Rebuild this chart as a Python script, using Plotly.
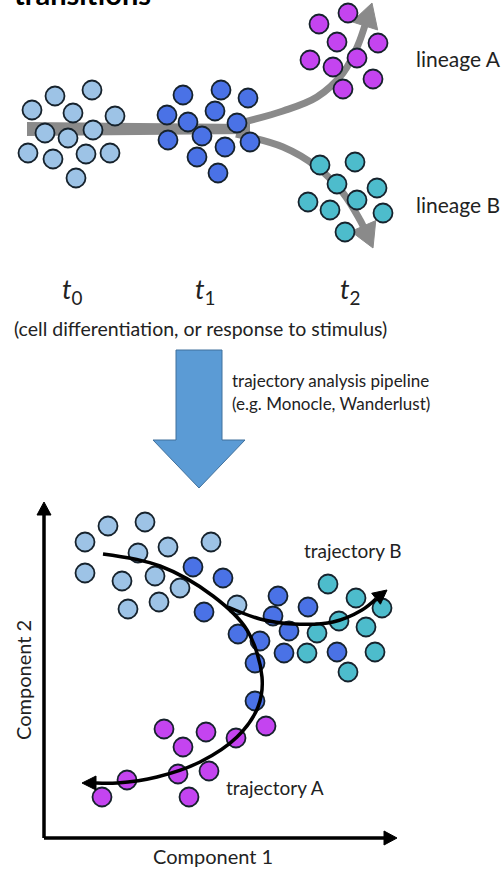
import math
import plotly.graph_objects as go

W, H = 504, 869
FONT = "Lato"

# ---------------- top panel: cells at time points ----------------
t0_x = [55, 92, 32, 73, 115, 45, 93, 68, 28, 53, 86, 110, 76]
t0_y = [96, 90, 110, 113, 116, 133, 130, 138, 153, 159, 154, 153, 178]
t1_x = [183, 221, 248, 167, 215, 188, 237, 168, 202, 225, 250, 197, 218]
t1_y = [95, 90, 98, 115, 111, 122, 123, 140, 136, 147, 142, 157, 173]
t2a_x = [319, 348, 337, 378, 310, 357, 333, 373, 343]
t2a_y = [24, 13, 42, 43, 60, 58, 67, 79, 89]
t2b_x = [320, 355, 337, 377, 308, 330, 357, 383, 345]
t2b_y = [165, 162, 184, 188, 202, 210, 200, 213, 232]

# gray trunk and branches
trunk_x = [27, 27, 250, 250]
trunk_y = [122, 136, 134, 124]
branchA_x = [236, 283, 317, 343, 358, 366, 372]
branchA_y = [124, 111, 97, 73, 45, 22, 3]
branchB_x = [236, 283, 317, 343, 360, 366, 373]
branchB_y = [134, 147, 167, 193, 220, 232, 248]

# ---------------- bottom panel: embedding ----------------
e_light_x = [108, 145, 85, 138, 168, 211, 85, 122, 155, 180, 128, 159, 237]
e_light_y = [526, 522, 542, 553, 547, 542, 573, 581, 576, 588, 609, 602, 605]
e_dark_x = [193, 223, 204, 278, 273, 308, 289, 238, 260, 284, 337, 255, 255]
e_dark_y = [567, 578, 612, 596, 616, 607, 631, 634, 641, 653, 652, 663, 701]
e_cyan_x = [328, 356, 382, 339, 317, 366, 307, 375, 348]
e_cyan_y = [584, 598, 608, 621, 633, 627, 653, 652, 672]
e_mag_x = [164, 206, 266, 183, 236, 127, 178, 209, 102, 189]
e_mag_y = [729, 732, 726, 747, 738, 780, 774, 771, 797, 797]

trajA_x = [103, 160, 213, 247, 262, 258, 237, 200, 157, 117, 82]
trajA_y = [554, 566, 596, 630, 677, 707, 737, 762, 777, 783, 783]
trajB_x = [228, 260, 293, 333, 362, 387]
trajB_y = [607, 619, 624, 622, 610, 590]

axis_y_x = [44, 44]
axis_y_y = [838, 502]
axis_x_x = [44, 397]
axis_x_y = [838, 838]

# down arrow
darrow_x = [176, 222, 222, 245, 199, 153, 176, 176]
darrow_y = [350, 350, 440, 440, 488, 440, 440, 350]

COL_LIGHT = "#9DC3E6"
COL_DARK = "#4A72E6"
COL_MAG = "#C444F0"
COL_CYAN = "#4DBCCC"
EDGE = "#16222c"
GRAY = "#8a8a8a"

fig = go.Figure()


def head(xs, ys, L, Wd):
    tx, ty = xs[-1], ys[-1]
    px, py = xs[-2], ys[-2]
    dx, dy = tx - px, ty - py
    n = math.hypot(dx, dy)
    ux, uy = dx / n, dy / n
    bx, by = tx - L * ux, ty - L * uy
    nx, ny = -uy, ux
    tri_x = [bx + Wd / 2 * nx, tx, bx - Wd / 2 * nx, bx + Wd / 2 * nx]
    tri_y = [by + Wd / 2 * ny, ty, by - Wd / 2 * ny, by + Wd / 2 * ny]
    return bx, by, tri_x, tri_y


def arrow_line(xs, ys, color, width, L, Wd, spline=True):
    bx, by, tx, ty = head(xs, ys, L, Wd)
    fig.add_trace(go.Scatter(
        x=list(xs[:-1]) + [bx], y=list(ys[:-1]) + [by], mode="lines",
        line=dict(color=color, width=width, shape="spline" if spline else "linear", smoothing=1.0),
        hoverinfo="skip", showlegend=False))
    fig.add_trace(go.Scatter(
        x=tx, y=ty, mode="lines", fill="toself", fillcolor=color,
        line=dict(color=color, width=1), hoverinfo="skip", showlegend=False))


def cells(xs, ys, color):
    fig.add_trace(go.Scatter(
        x=xs, y=ys, mode="markers",
        marker=dict(size=19, color=color, line=dict(color=EDGE, width=1.8)),
        hoverinfo="skip", showlegend=False))


# gray trunk
fig.add_trace(go.Scatter(x=trunk_x + [trunk_x[0]], y=trunk_y + [trunk_y[0]], mode="lines",
                         fill="toself", fillcolor=GRAY, line=dict(color=GRAY, width=0),
                         hoverinfo="skip", showlegend=False))
arrow_line(branchA_x, branchA_y, GRAY, 7, 24, 27)
arrow_line(branchB_x, branchB_y, GRAY, 7, 24, 27)

cells(t0_x, t0_y, COL_LIGHT)
cells(t1_x, t1_y, COL_DARK)
cells(t2a_x, t2a_y, COL_MAG)
cells(t2b_x, t2b_y, COL_CYAN)

# down arrow
fig.add_trace(go.Scatter(x=darrow_x, y=darrow_y, mode="lines", fill="toself",
                         fillcolor="#5B9BD5", line=dict(color="#41719C", width=1),
                         hoverinfo="skip", showlegend=False))

# embedding axes
arrow_line(axis_y_x, axis_y_y, "black", 3.5, 13, 14, spline=False)
arrow_line(axis_x_x, axis_x_y, "black", 3.5, 13, 14, spline=False)

cells(e_light_x, e_light_y, COL_LIGHT)
cells(e_dark_x, e_dark_y, COL_DARK)
cells(e_cyan_x, e_cyan_y, COL_CYAN)
cells(e_mag_x, e_mag_y, COL_MAG)

arrow_line(trajA_x, trajA_y, "black", 3.5, 14, 14)
arrow_line(trajB_x, trajB_y, "black", 3.5, 14, 14)


def label(x, y, text, size, xanchor="left", yanchor="middle", angle=0, color="#222222", yshift=0):
    fig.add_annotation(x=x, y=y, xref="x", yref="y", text=text, showarrow=False,
                       xanchor=xanchor, yanchor=yanchor, textangle=angle, yshift=yshift,
                       font=dict(family=FONT, size=size, color=color))


label(12, 1, "<b>transitions</b>", 29, color="black", yshift=8)
label(414, 58, "lineage A", 21)
label(414, 204, "lineage B", 21)
label(72, 290, "<i>t</i><sub>0</sub>", 27, xanchor="center")
label(205, 290, "<i>t</i><sub>1</sub>", 27, xanchor="center")
label(350, 290, "<i>t</i><sub>2</sub>", 27, xanchor="center")
label(200, 328, "(cell differentiation, or response to stimulus)", 19.5, xanchor="center")
label(230, 380, "trajectory analysis pipeline", 17)
label(230, 403, "(e.g. Monocle, Wanderlust)", 17)
label(302, 550, "trajectory B", 19)
label(224, 787, "trajectory A", 19)
label(213, 856, "Component 1", 20, xanchor="center")
label(23, 680, "Component 2", 20, xanchor="center", angle=-90)

fig.update_layout(
    width=W, height=H, margin=dict(l=0, r=0, t=0, b=0),
    paper_bgcolor="white", plot_bgcolor="white",
    xaxis=dict(range=[0, W], visible=False, fixedrange=True),
    yaxis=dict(range=[H, 0], visible=False, fixedrange=True),
    showlegend=False,
)
fig.write_html("out.html", config={"displayModeBar": False},
               post_script="document.body.style.margin='0';document.body.style.overflow='hidden';")
